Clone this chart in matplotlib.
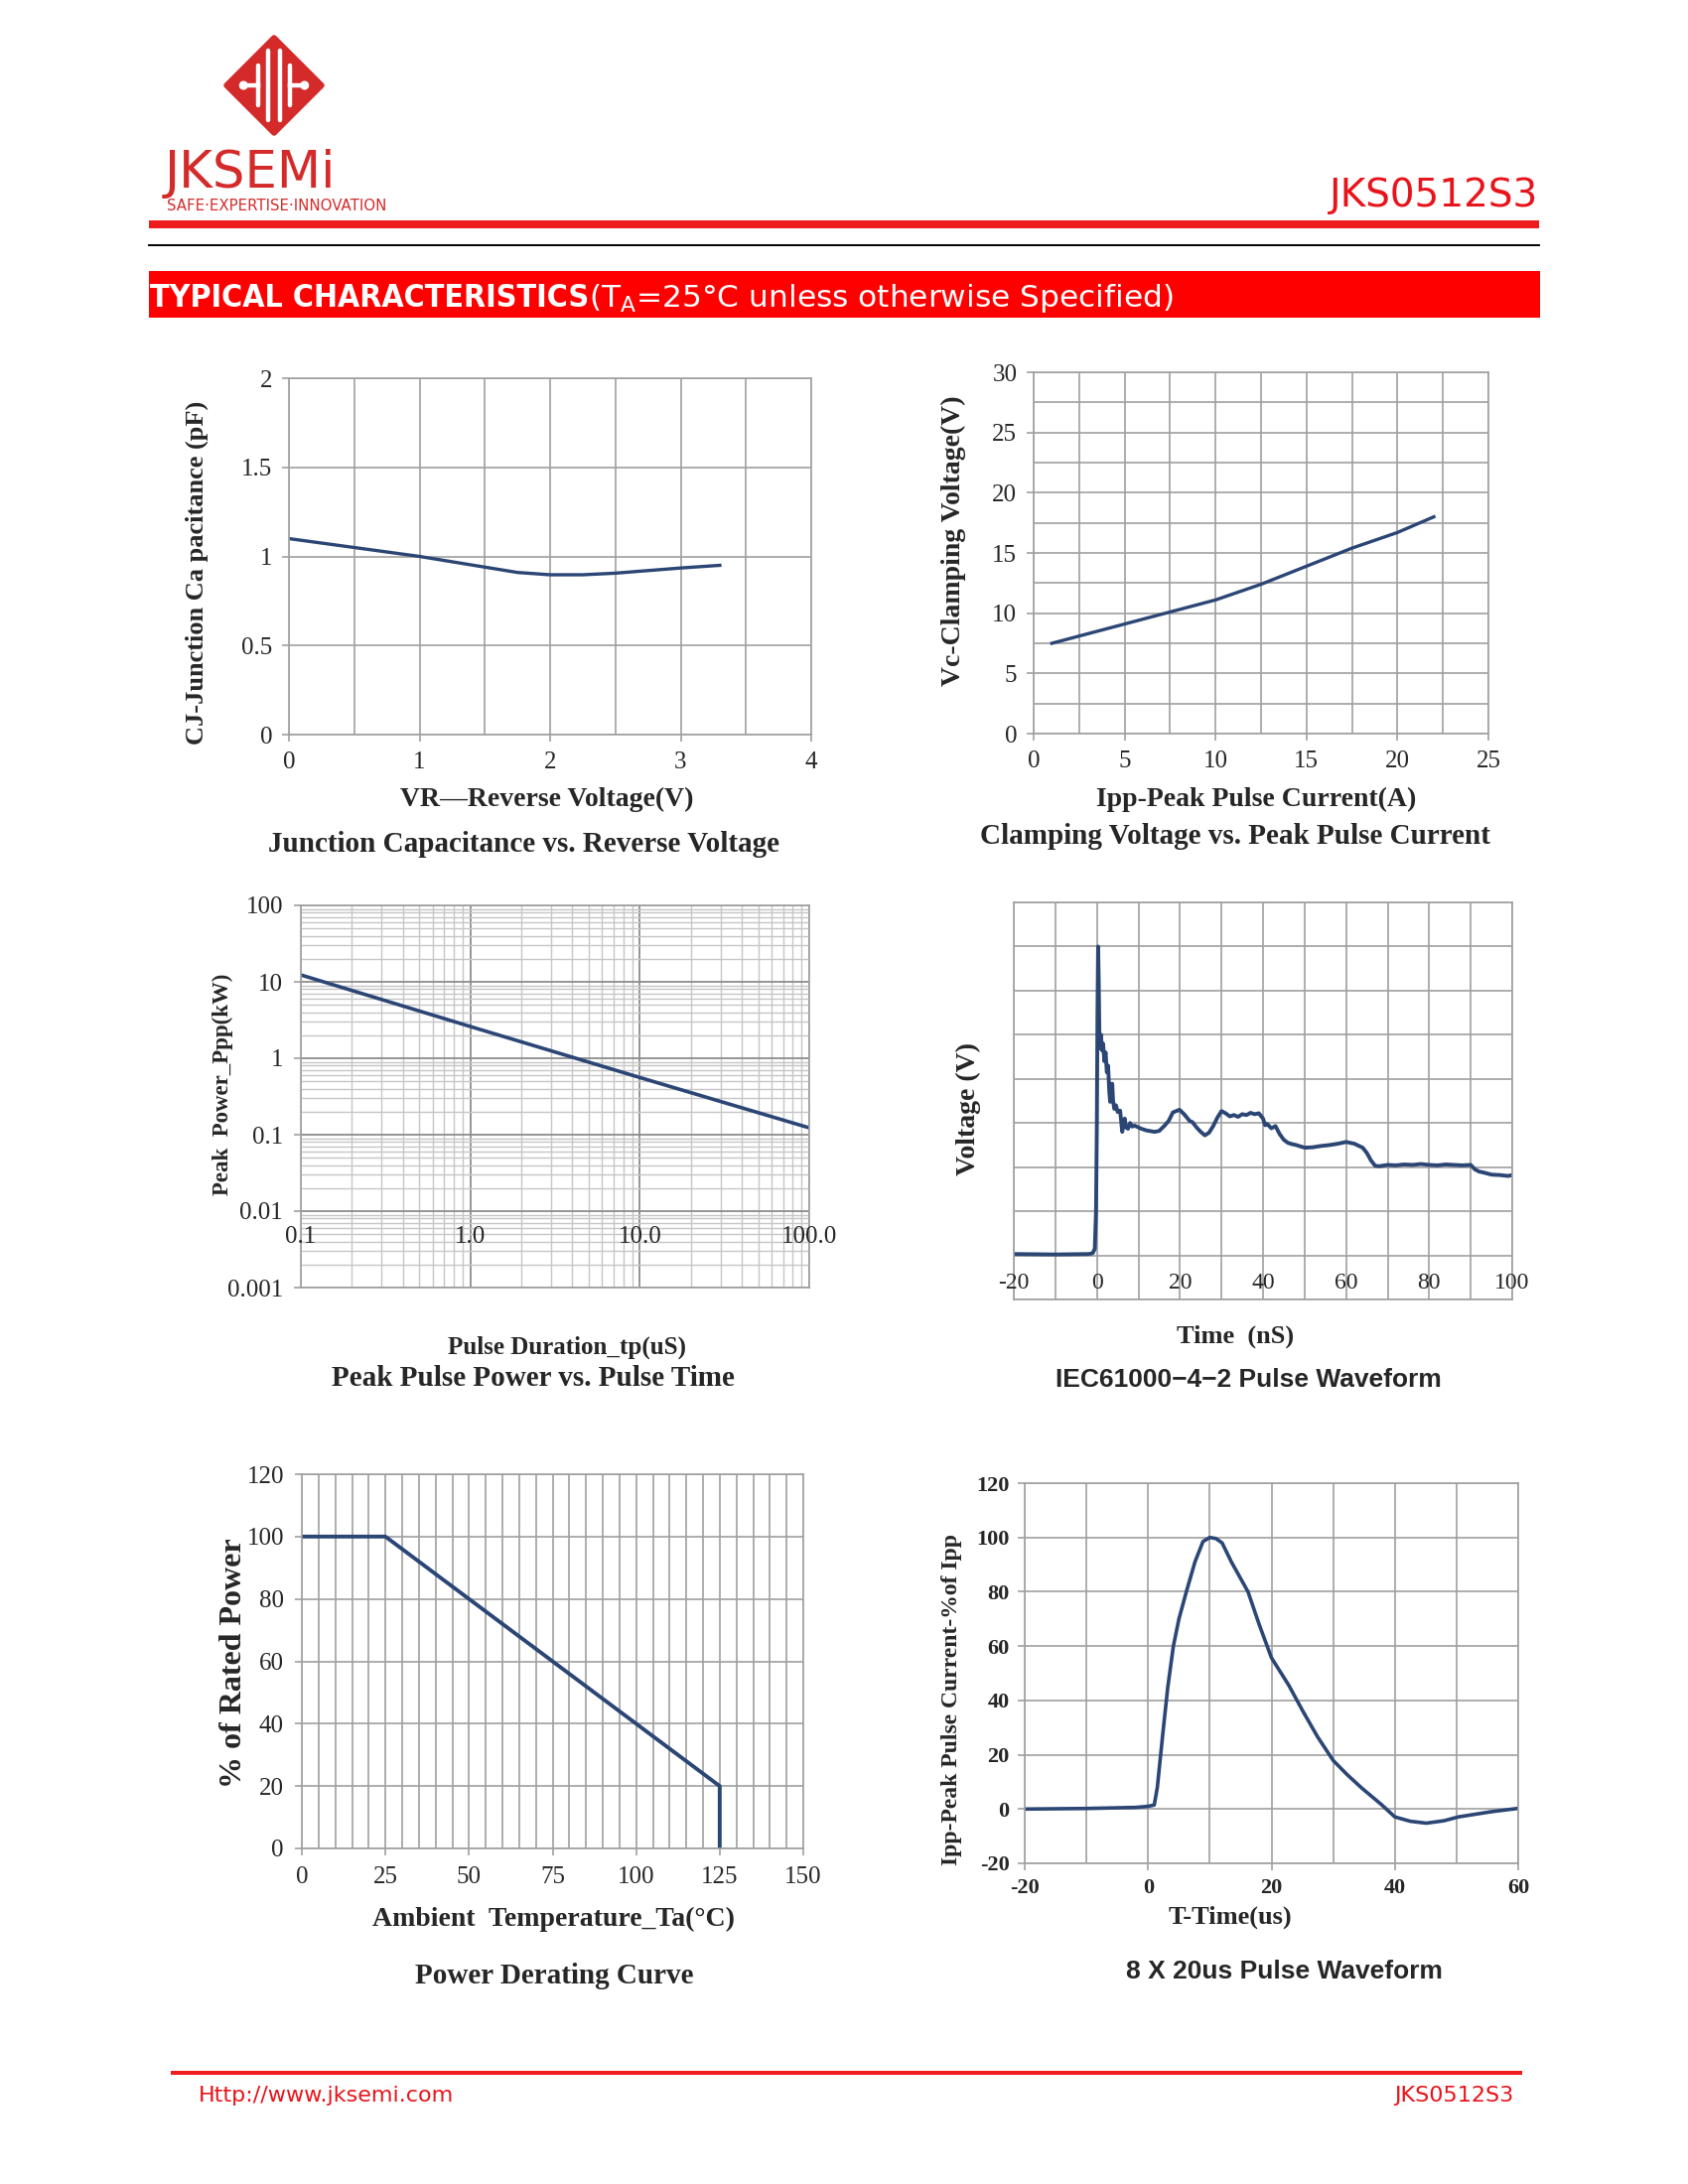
import matplotlib
matplotlib.use('Agg')
import matplotlib.pyplot as plt
from matplotlib.patches import Polygon, Circle, Rectangle
from matplotlib.ticker import (MultipleLocator, FixedLocator, FixedFormatter,
                               NullFormatter, FuncFormatter, LogLocator)

# ---- data ----
cap_vr = [0, 0.5, 1.0, 1.5, 1.75, 2.0, 2.25, 2.5, 3.0, 3.3]
cap_pf = [1.10, 1.05, 1.00, 0.94, 0.91, 0.897, 0.897, 0.906, 0.935, 0.95]

clamp_ipp = [1, 3, 5, 7.5, 10, 12.5, 15, 17.5, 20, 22]
clamp_vc = [7.5, 8.3, 9.1, 10.1, 11.1, 12.4, 13.9, 15.4, 16.7, 18.0]

ppp_tp = [0.1, 1, 10, 100]
ppp_kw = [12.3, 2.6, 0.56, 0.123]
ppp_xticks = [0.1, 1, 10, 100]
ppp_xlabels = ['0.1', '1.0', '10.0', '100.0']
ppp_yticks = [0.001, 0.01, 0.1, 1, 10, 100]
ppp_ylabels = ['0.001', '0.01', '0.1', '1', '10', '100']

esd_t = [-20, -10, -2, -1, -0.5, -0.2, 0.0, 0.15, 0.3, 0.45, 0.6, 0.8, 1.0, 1.2, 1.5,
         1.8, 2.1, 2.4, 2.7, 3.0, 3.2, 3.5, 3.7, 3.9, 4.2, 4.6, 5.0, 5.6, 5.9, 6.1,
         6.4, 6.7, 7.0, 7.5, 8.0, 8.5, 9.1, 10, 10.7, 12, 13.9, 15, 16.3, 17.3, 18.3,
         19.9, 21, 22.3, 23, 24, 25, 26, 27, 28, 29, 30, 31, 32, 33, 34, 35, 36, 37,
         38, 39, 40, 40.5, 41, 42, 43, 44, 45, 46, 47, 48, 50, 52, 54, 56, 58, 60, 62,
         64, 65, 66, 67, 68, 70, 72, 74, 76, 78, 80, 82, 84, 86, 88, 90, 91, 92, 93,
         95, 97, 99, 100]
esd_v = [0.03, 0.02, 0.03, 0.05, 0.15, 1.0, 3.0, 5.5, 7.0, 6.2, 5.0, 4.7, 5.0, 4.65, 4.8,
         4.4, 4.6, 4.15, 4.3, 3.7, 3.48, 3.6, 3.89, 3.5, 3.32, 3.4, 3.25, 3.28, 3.0, 2.8,
         2.95, 3.1, 2.9, 2.87, 3.0, 2.92, 2.94, 2.9, 2.87, 2.83, 2.8, 2.82, 2.94, 3.05, 3.24,
         3.3, 3.2, 3.05, 3.02, 2.9, 2.8, 2.72, 2.78, 2.93, 3.12, 3.27, 3.22, 3.15, 3.18, 3.14,
         3.2, 3.18, 3.23, 3.2, 3.22, 3.1, 2.95, 2.98, 2.88, 2.93, 2.75, 2.62, 2.55, 2.52, 2.5,
         2.44, 2.45, 2.48, 2.5, 2.53, 2.57, 2.53, 2.44, 2.32, 2.15, 2.03, 2.02, 2.05, 2.04,
         2.06, 2.05, 2.07, 2.05, 2.04, 2.06, 2.05, 2.04, 2.05, 1.95, 1.9, 1.88, 1.83, 1.82,
         1.8, 1.82]
esd_xticks = [-20, 0, 20, 40, 60, 80, 100]

derate_t = [0, 25, 125, 125]
derate_pct = [100, 100, 20, 0]

surge_t = [-20, -10, -2, 0, 1, 1.5, 2.4, 3.2, 4.1, 5, 6.2, 7.6, 8.9, 10, 11, 12, 13.5,
           16.2, 18, 20, 22.8, 25.1, 27.5, 30, 32.3, 34.6, 37.9, 40, 42.5, 45.1, 48,
           50.3, 55.6, 60]
surge_pct = [0, 0.2, 0.6, 1, 1.5, 8, 28, 45, 60, 70, 80, 91, 98.5, 100, 99.6, 98, 91,
             80, 68, 55.7, 45.6, 36, 26.5, 17.9, 12.6, 7.8, 1.5, -2.9, -4.5, -5.2, -4.3,
             -2.9, -1, 0.25]

# ---- styles ----
RED = '#e8141b'
LOGO = '#d42a2a'
CURVE = '#2b4675'
GRID = '#a0a0a0'
TXT = '#262626'
SERIF = 'Liberation Serif'
SANS = 'Liberation Sans'
W, H = 1700, 2200

plt.rcParams['font.family'] = SERIF
plt.rcParams['axes.unicode_minus'] = False

fig = plt.figure(figsize=(17, 22), dpi=100, facecolor='white')
deco = fig.add_axes([0, 0, 1, 1])
deco.set_xlim(0, W)
deco.set_ylim(H, 0)
deco.axis('off')
deco.set_zorder(-1)

# ---- page header ----
cx, cy, s = 276, 86, 48
deco.add_patch(Polygon([(cx, cy - s), (cx + s, cy), (cx, cy + s), (cx - s, cy)],
                       closed=True, fc=LOGO, ec=LOGO, lw=4, joinstyle='round'))
for bx, bl in zip([-0.34, -0.12, 0.12, 0.34], [0.42, 0.72, 0.72, 0.42]):
    deco.plot([cx + bx * s, cx + bx * s], [cy - bl * s, cy + bl * s], color='white', lw=3.2,
              solid_capstyle='round')
for sgn in (-1, 1):
    deco.plot([cx + sgn * 0.34 * s, cx + sgn * 0.6 * s], [cy, cy], color='white', lw=3.2)
    deco.add_patch(Circle((cx + sgn * 0.64 * s, cy), 0.08 * s, color='white'))
deco.text(166, 189, 'JKSEMi', color=LOGO, fontsize=37, family='DejaVu Sans',
          ha='left', va='baseline')
deco.text(168, 212, 'SAFE·EXPERTISE·INNOVATION', color=LOGO, fontsize=10.8,
          family='DejaVu Sans', ha='left', va='baseline')
deco.add_patch(Rectangle((150, 222), 1400, 8, color='#ee1c1c', lw=0))
deco.plot([150, 1550], [247, 247], color='black', lw=1.4)
deco.text(1549, 208, 'JKS0512S3', color=RED, fontsize=28, family='DejaVu Sans',
          ha='right', va='baseline')

deco.add_patch(Rectangle((150, 273), 1401, 47, color='#ff0000', lw=0))
t_bold = fig.text(151 / W, 1 - 309 / H, 'TYPICAL CHARACTERISTICS', color='white',
                  fontsize=23, weight='bold', family='DejaVu Sans', fontstretch='condensed',
                  ha='left', va='baseline')
fig.canvas.draw()
bb = t_bold.get_window_extent(renderer=fig.canvas.get_renderer())
fig.text(bb.x1 / W, 1 - 309 / H, r'(T$_{\mathregular{A}}$=25°C unless otherwise Specified)',
         color='white', fontsize=22.5, family='DejaVu Sans', ha='left', va='baseline')

# ---- page footer ----
deco.add_patch(Rectangle((172, 2086), 1361, 4, color='#ee1c1c', lw=0))
deco.text(200, 2117, 'Http://www.jksemi.com', color=RED, fontsize=16, family='DejaVu Sans',
          ha='left', va='baseline')
deco.text(1524, 2117, 'JKS0512S3', color=RED, fontsize=16, family='DejaVu Sans',
          ha='right', va='baseline')


def make_ax(l, t, r, b, labelsize=18, pad=8):
    ax = fig.add_axes([l / W, 1 - b / H, (r - l) / W, (b - t) / H])
    for sp in ax.spines.values():
        sp.set_color(GRID)
        sp.set_linewidth(1.2)
    ax.tick_params(colors=GRID, labelcolor=TXT, length=5, width=1.2, direction='out',
                   labelsize=labelsize, pad=pad)
    ax.tick_params(which='minor', length=0)
    ax.set_axisbelow(True)
    return ax


def label(x, y, txt, size=18, rot=0, family=SERIF):
    deco.text(x, y, txt, fontsize=size, rotation=rot, family=family, weight='bold',
              color=TXT, ha='center', va='center')


gfmt = FuncFormatter(lambda v, p: f'{v:g}')

# 1. junction capacitance
ax1 = make_ax(291, 381, 817, 740, pad=7)
ax1.plot(cap_vr, cap_pf, color=CURVE, lw=2.4)
ax1.set_xlim(0, 4)
ax1.set_ylim(0, 2)
ax1.xaxis.set_major_locator(MultipleLocator(1))
ax1.xaxis.set_minor_locator(MultipleLocator(0.5))
ax1.yaxis.set_major_locator(MultipleLocator(0.5))
ax1.yaxis.set_major_formatter(gfmt)
ax1.grid(True, which='both', color=GRID, lw=1.2)
label(198, 577, 'CJ-Junction Ca pacitance (pF)', 19, 90)
label(551, 805, 'VR—Reverse Voltage(V)', 20)
label(528, 850, 'Junction Capacitance vs. Reverse Voltage', 21)

# 2. clamping voltage
ax2 = make_ax(1041, 375, 1499, 739, pad=7)
ax2.plot(clamp_ipp, clamp_vc, color=CURVE, lw=2.4)
ax2.set_xlim(0, 25)
ax2.set_ylim(0, 30)
ax2.xaxis.set_major_locator(MultipleLocator(5))
ax2.xaxis.set_minor_locator(MultipleLocator(2.5))
ax2.yaxis.set_major_locator(MultipleLocator(5))
ax2.yaxis.set_minor_locator(MultipleLocator(2.5))
ax2.grid(True, which='both', color=GRID, lw=1.2)
label(960, 545, 'Vc-Clamping Voltage(V)', 20, 90)
label(1265, 805, 'Ipp-Peak Pulse Current(A)', 20)
label(1244, 843, 'Clamping Voltage vs. Peak Pulse Current', 21)

# 3. peak pulse power
ax3 = make_ax(303, 912, 815, 1297)
ax3.plot(ppp_tp, ppp_kw, color=CURVE, lw=2.6)
ax3.set_xscale('log')
ax3.set_yscale('log')
ax3.set_xlim(0.1, 100)
ax3.set_ylim(0.001, 100)
ax3.yaxis.set_major_locator(FixedLocator(ppp_yticks))
ax3.yaxis.set_major_formatter(FixedFormatter(ppp_ylabels))
ax3.yaxis.set_minor_locator(LogLocator(subs=range(2, 10)))
ax3.yaxis.set_minor_formatter(NullFormatter())
ax3.xaxis.set_major_locator(FixedLocator(ppp_xticks))
ax3.xaxis.set_major_formatter(NullFormatter())
ax3.xaxis.set_minor_locator(LogLocator(subs=range(2, 10)))
ax3.xaxis.set_minor_formatter(NullFormatter())
ax3.tick_params(axis='x', which='both', length=0)
ax3.grid(True, which='minor', color='#c6c6c6', lw=1.0)
ax3.grid(True, which='major', color='#8c8c8c', lw=1.3)
for v, s in zip(ppp_xticks, ppp_xlabels):
    ax3.text(v, 0.00454, s, ha='center', va='center', fontsize=18, color=TXT)
label(224, 1092, 'Peak  Power_Ppp(kW)', 16.5, 90)
label(571, 1357, 'Pulse Duration_tp(uS)', 18)
label(537, 1389, 'Peak Pulse Power vs. Pulse Time', 21)

# 4. IEC61000-4-2 waveform
ax4 = make_ax(1021, 909, 1523, 1309)
ax4.plot(esd_t, esd_v, color=CURVE, lw=2.8)
ax4.set_xlim(-20, 100)
ax4.set_ylim(-1, 8)
ax4.xaxis.set_major_locator(MultipleLocator(10))
ax4.yaxis.set_major_locator(MultipleLocator(1))
ax4.set_xticklabels([])
ax4.set_yticklabels([])
ax4.tick_params(which='both', length=0)
ax4.grid(True, which='major', color=GRID, lw=1.2)
for v in esd_xticks:
    ax4.text(v, -0.62, f'{v}', ha='center', va='center', fontsize=17, color=TXT)
label(975, 1117, 'Voltage (V)', 20, 90)
label(1244, 1346, 'Time  (nS)', 19)
label(1257, 1390, 'IEC61000−4−2 Pulse Waveform', 19, family=SANS)

# 5. power derating
ax5 = make_ax(304, 1485, 809, 1862)
ax5.plot(derate_t, derate_pct, color=CURVE, lw=2.8)
ax5.set_xlim(0, 150)
ax5.set_ylim(0, 120)
ax5.xaxis.set_major_locator(MultipleLocator(25))
ax5.xaxis.set_minor_locator(MultipleLocator(5))
ax5.yaxis.set_major_locator(MultipleLocator(20))
ax5.grid(True, which='both', color=GRID, lw=1.2)
label(236, 1675, '% of Rated Power', 23, 90)
label(558, 1933, 'Ambient  Temperature_Ta(°C)', 20)
label(558, 1990, 'Power Derating Curve', 21)

# 6. 8x20us waveform
ax6 = make_ax(1032, 1494, 1529, 1877, labelsize=16, pad=6)
ax6.plot(surge_t, surge_pct, color=CURVE, lw=2.6)
ax6.set_xlim(-20, 60)
ax6.set_ylim(-20, 120)
ax6.xaxis.set_major_locator(MultipleLocator(20))
ax6.xaxis.set_minor_locator(MultipleLocator(10))
ax6.yaxis.set_major_locator(MultipleLocator(20))
ax6.grid(True, which='both', color=GRID, lw=1.2)
for lab in ax6.get_xticklabels() + ax6.get_yticklabels():
    lab.set_fontweight('bold')
label(959, 1712, 'Ipp-Peak Pulse Current-%of Ipp', 17, 90)
label(1239, 1931, 'T-Time(us)', 19)
label(1293, 1986, '8 X 20us Pulse Waveform', 19, family=SANS)

fig.savefig('out.png', dpi=100, facecolor='white')
